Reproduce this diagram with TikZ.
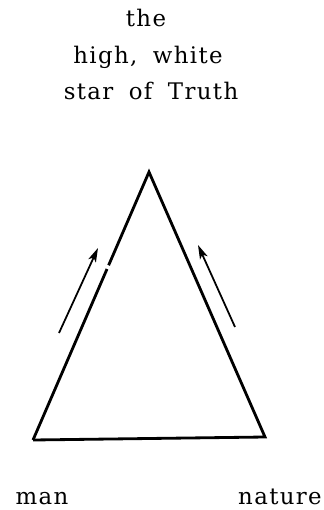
\documentclass[tikz,border=0pt]{standalone}
\usepackage{fontspec}
\newfontfamily\labelfont[LetterSpace=6, WordSpace=1.8]{DejaVu Serif}
\usetikzlibrary{positioning, arrows.meta, calc}

\begin{document}
\begin{tikzpicture}[
			x=0.03cm, y=-0.03cm,
			word/.style={inner sep=0pt, anchor=base, font=\labelfont\fontsize{19.5}{23}\selectfont},
			side/.style={line width=2.4pt, line join=miter},
			arrow/.style={-{Stealth[length=12pt, width=7pt, inset=3pt]}, line width=1.5pt}
			]
			\useasboundingbox (0,0) rectangle (323,510);
			% Text
			\node (the) [word] at (146,27) {the};
			\node (high) [word] at (148,64) {high, white};
			\node (star) [word] at (151,100) {star of Truth};
			\node (man) [word] at (42,504) {man};
			\node (nature) [word] at (280,504) {nature};
			
			% Triangle
			\coordinate (top) at (149,172);
			\coordinate (lft) at (33,440);
			\coordinate (rgt) at (265,437);
			\draw [side] (lft) -- ($(lft)!0.638!(top)$);
			\draw [side] ($(lft)!0.652!(top)$) -- (top) -- (rgt) -- (lft);
			
			% Arrows
			\coordinate (ltail) at (59,333);
			\coordinate (lhead) at (98,248);
			\coordinate (rtail) at (235,327);
			\coordinate (rhead) at (198,245);
			\draw [arrow] (ltail) -- (lhead);
			\draw [arrow] (rtail) -- (rhead);
		\end{tikzpicture}
\end{document}
